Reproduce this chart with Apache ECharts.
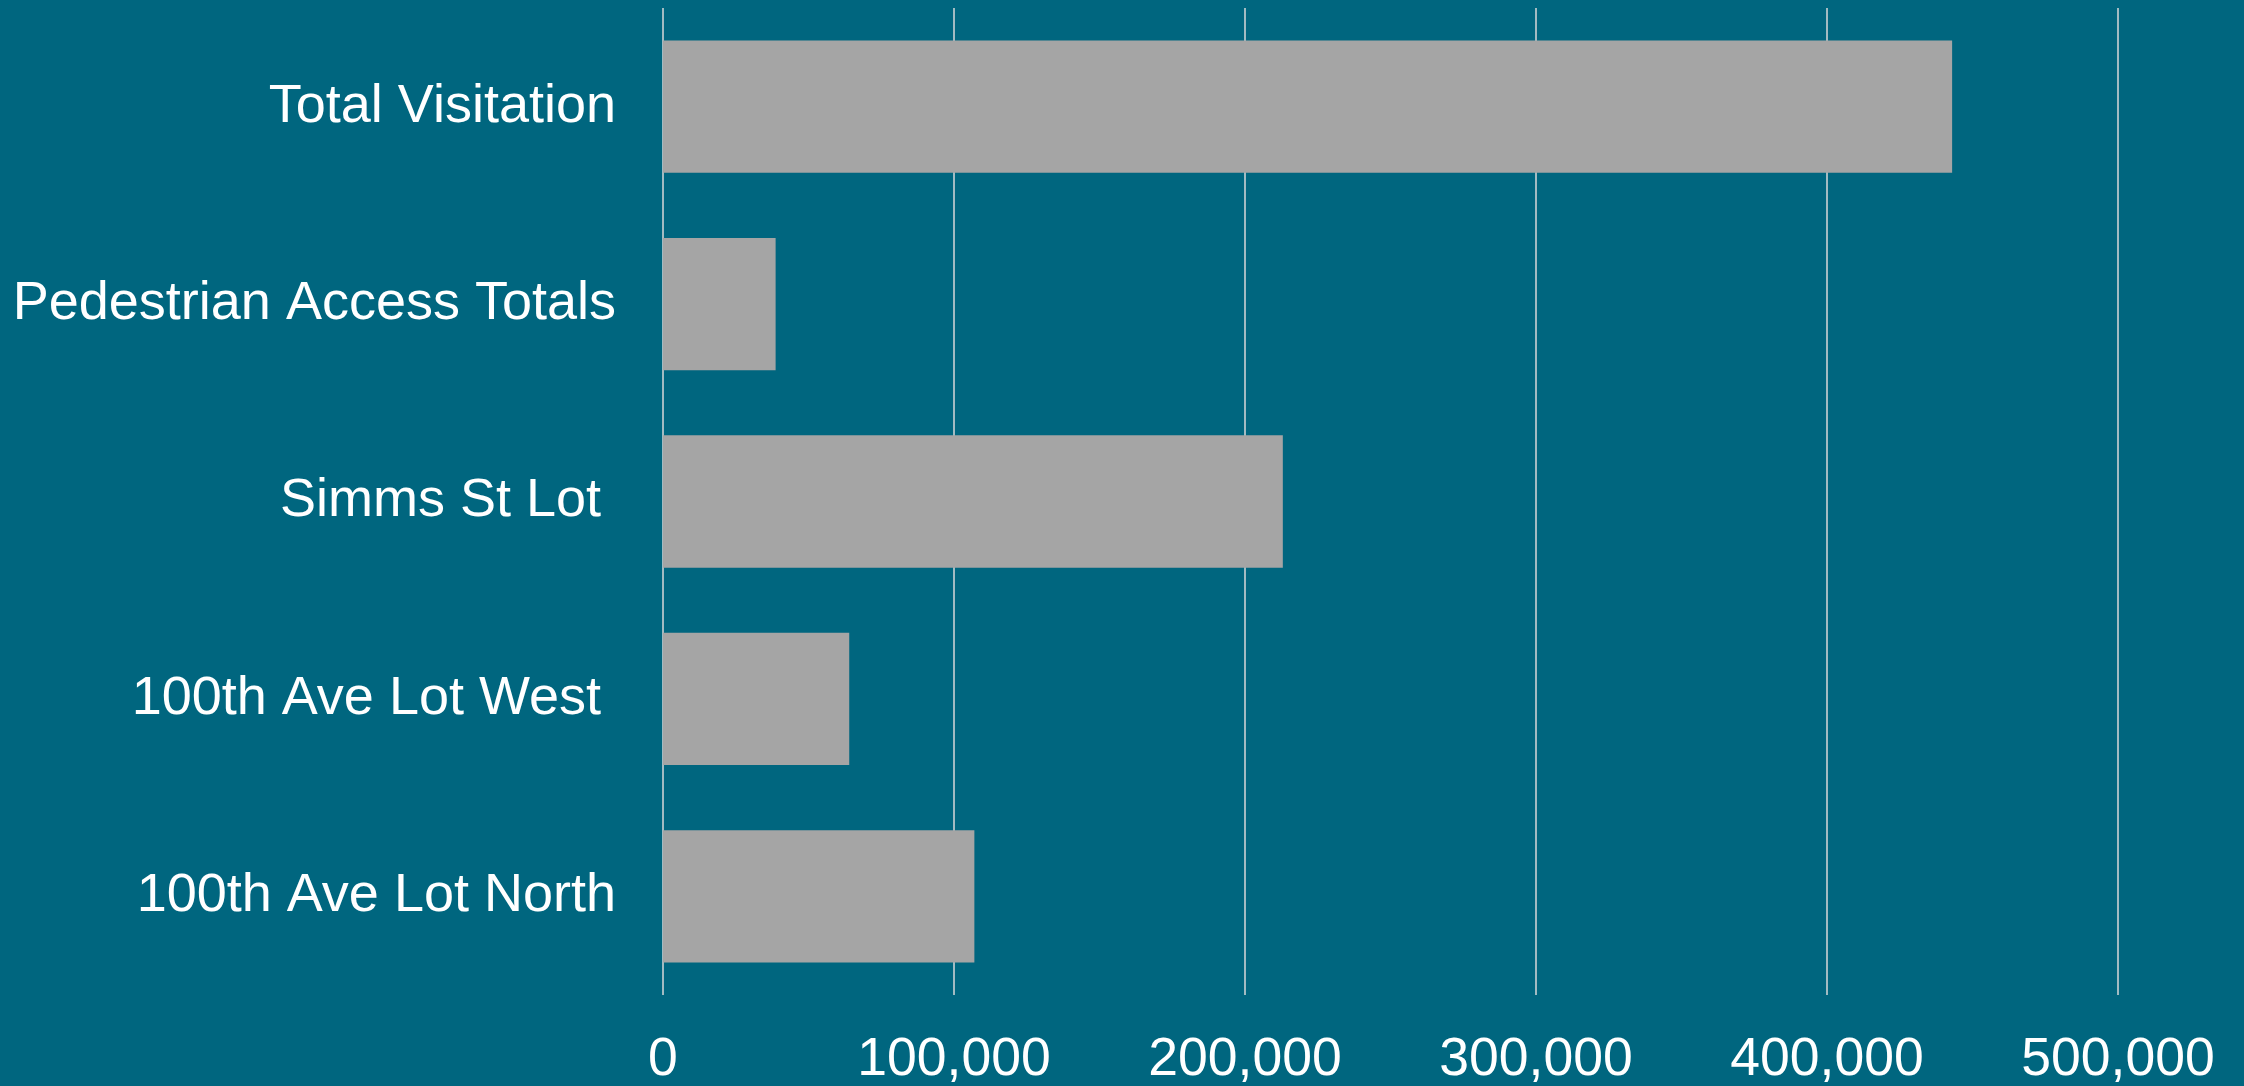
<!DOCTYPE html>
<html>
<head>
<meta charset="utf-8">
<script src="https://cdn.jsdelivr.net/npm/echarts@6/dist/echarts.min.js"></script>
<style>
html,body{margin:0;padding:0;background:#00667F;}
#chart{width:2244px;height:1086px;}
</style>
</head>
<body>
<div id="chart"></div>
<script>
const categories = ["Total Visitation", "Pedestrian Access Totals", "Simms St Lot ", "100th Ave Lot West ", "100th Ave Lot North"];
const values = [443000, 38700, 213000, 64000, 107000];
const xTicks = { min: 0, max: 500000, interval: 100000 };

const chart = echarts.init(document.getElementById('chart'), null, { renderer: 'canvas' });
chart.setOption({
  backgroundColor: '#00667F',
  animation: false,
  grid: { left: 663, right: 126, top: 8, bottom: 91, containLabel: false, outerBoundsMode: 'none' },
  xAxis: {
    type: 'value',
    min: xTicks.min, max: xTicks.max, interval: xTicks.interval,
    axisLine: { show: false },
    axisTick: { show: false },
    splitLine: { show: true, lineStyle: { color: '#D9D9D9', width: 1.5 } },
    axisLabel: {
      color: '#FFFFFF', fontFamily: 'Liberation Sans, Arial, sans-serif', fontSize: 53.5, margin: 38,
      formatter: v => v.toLocaleString('en-US')
    }
  },
  yAxis: {
    type: 'category',
    inverse: true,
    data: categories,
    axisLine: { show: false },
    axisTick: { show: false },
    splitLine: { show: false },
    axisLabel: {
      color: '#FFFFFF', fontFamily: 'Liberation Sans, Arial, sans-serif', fontSize: 54, margin: 47,
      padding: [8, 0, 0, 0]
    }
  },
  series: [{
    type: 'bar',
    data: values,
    barCategoryGap: '33%',
    itemStyle: { color: '#A5A5A5' }
  }]
});
</script>
</body>
</html>
